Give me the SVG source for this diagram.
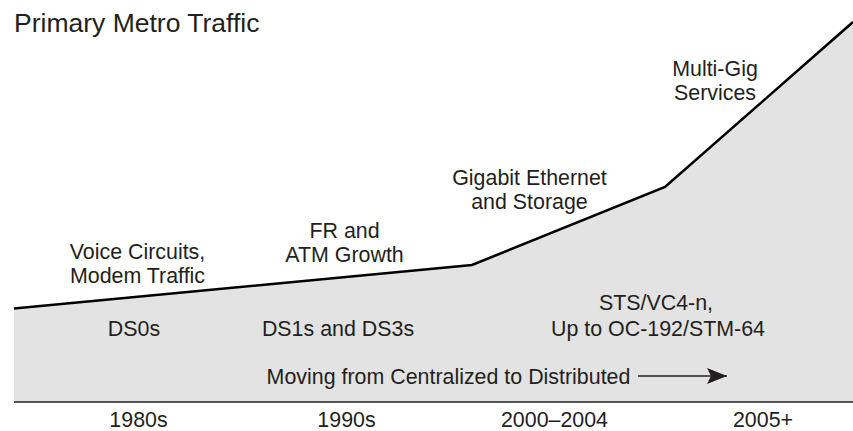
<svg xmlns="http://www.w3.org/2000/svg" width="853" height="431" viewBox="0 0 853 431">
  <style>
    text { font-family: "Liberation Sans", Arial, sans-serif; fill: #231f20; text-anchor: middle; }
    .title { font-size: 26.5px; text-anchor: start; }
    .lbl { font-size: 21.4px; }
    .curve { fill: none; stroke: #000; stroke-width: 2.6; stroke-linejoin: miter; }
    .area { fill: #e3e3e3; stroke: none; }
    .axis { stroke: #231f20; stroke-width: 1.6; }
  </style>
  <defs>
    <marker id="arrowHead" markerWidth="20" markerHeight="16" refX="20" refY="8" orient="auto" markerUnits="userSpaceOnUse">
      <path d="M0,0 L20,8 L0,16 L4,8 Z" fill="#231f20"/>
    </marker>
  </defs>

  <rect width="853" height="431" fill="#fff"/>

  <text class="title" x="14" y="32">Primary Metro Traffic</text>

  <!-- traffic growth area -->
  <g id="traffic-area">
    <path class="area" d="M14,308.5 L472,265 L665,187 L853,22 L853,402 L14,402 Z"/>
    <path class="curve" d="M14,308.5 L472,265 L665,187 L853,22"/>
  </g>

  <!-- baseline axis -->
  <g id="axis">
    <line class="axis" x1="14" y1="402" x2="853" y2="402"/>
  </g>

  <g id="label-voice">
    <text class="lbl" x="137.5" y="259">Voice Circuits,</text>
    <text class="lbl" x="137.5" y="283">Modem Traffic</text>
  </g>
  <g id="label-fr-atm">
    <text class="lbl" x="344.5" y="238">FR and</text>
    <text class="lbl" x="344.5" y="262">ATM Growth</text>
  </g>
  <g id="label-gige">
    <text class="lbl" x="529.5" y="185">Gigabit Ethernet</text>
    <text class="lbl" x="529.5" y="209">and Storage</text>
  </g>
  <g id="label-multigig">
    <text class="lbl" x="715" y="76">Multi-Gig</text>
    <text class="lbl" x="715" y="100">Services</text>
  </g>

  <g id="label-ds0">
    <text class="lbl" x="134" y="336">DS0s</text>
  </g>
  <g id="label-ds1-ds3">
    <text class="lbl" x="338" y="336">DS1s and DS3s</text>
  </g>
  <g id="label-sts">
    <text class="lbl" x="656" y="310">STS/VC4-n,</text>
    <text class="lbl" x="658" y="336">Up to OC-192/STM-64</text>
  </g>

  <g id="label-moving">
    <text class="lbl" x="448.5" y="384">Moving from Centralized to Distributed</text>
  </g>
  <g id="connectors">
    <line x1="638" y1="376" x2="727" y2="376" stroke="#231f20" stroke-width="1.6" marker-end="url(#arrowHead)"/>
  </g>

  <g id="years">
    <text class="lbl" x="138.5" y="427">1980s</text>
    <text class="lbl" x="346.5" y="427">1990s</text>
    <text class="lbl" x="554.5" y="427">2000–2004</text>
    <text class="lbl" x="763" y="427">2005+</text>
  </g>
</svg>
